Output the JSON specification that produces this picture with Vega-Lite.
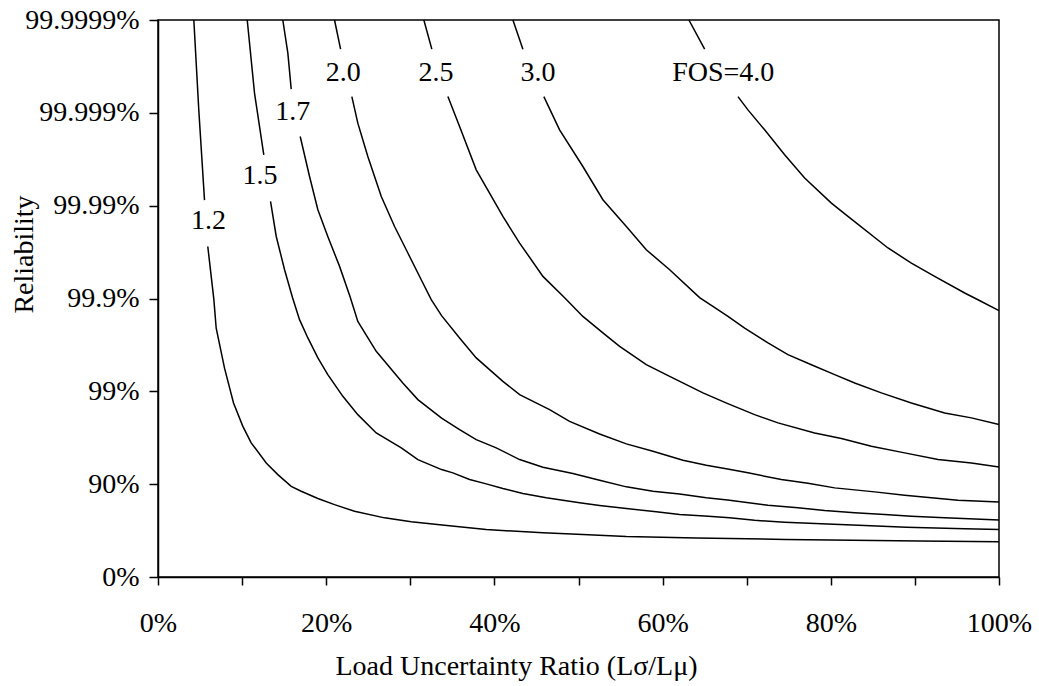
{
  "$schema": "https://vega.github.io/schema/vega-lite/v6.json",
  "autosize": {"type": "none"},
  "width": 841,
  "height": 557,
  "padding": {"left": 158, "top": 20, "right": 40, "bottom": 109},
  "background": "white",
  "config": {
    "font": "Liberation Serif",
    "view": {"stroke": "black", "strokeWidth": 1.5},
    "axis": {
      "grid": false,
      "domainColor": "black",
      "domainWidth": 1.5,
      "tickColor": "black",
      "tickWidth": 1.5,
      "labelColor": "black",
      "titleColor": "black",
      "labelFont": "Liberation Serif",
      "titleFont": "Liberation Serif",
      "labelFontSize": 28,
      "titleFontSize": 28,
      "titleFontWeight": "normal",
      "labelFlush": false,
      "labelOverlap": false
    }
  },
  "datasets": {
    "curves": [
      {"fos": "1.2", "part": "a", "x": 4.26, "y": 6.0},
      {"fos": "1.2", "part": "a", "x": 4.85, "y": 5.03},
      {"fos": "1.2", "part": "a", "x": 5.53, "y": 4.06},
      {"fos": "1.2", "part": "b", "x": 5.92, "y": 3.56},
      {"fos": "1.2", "part": "b", "x": 6.64, "y": 2.99},
      {"fos": "1.2", "part": "b", "x": 6.92, "y": 2.68},
      {"fos": "1.2", "part": "b", "x": 7.91, "y": 2.25},
      {"fos": "1.2", "part": "b", "x": 8.98, "y": 1.875},
      {"fos": "1.2", "part": "b", "x": 10.09, "y": 1.623},
      {"fos": "1.2", "part": "b", "x": 11.08, "y": 1.445},
      {"fos": "1.2", "part": "b", "x": 12.87, "y": 1.229},
      {"fos": "1.2", "part": "b", "x": 14.25, "y": 1.103},
      {"fos": "1.2", "part": "b", "x": 15.84, "y": 0.977},
      {"fos": "1.2", "part": "b", "x": 17.03, "y": 0.924},
      {"fos": "1.2", "part": "b", "x": 19.01, "y": 0.845},
      {"fos": "1.2", "part": "b", "x": 20.99, "y": 0.78},
      {"fos": "1.2", "part": "b", "x": 23.37, "y": 0.708},
      {"fos": "1.2", "part": "b", "x": 26.94, "y": 0.637},
      {"fos": "1.2", "part": "b", "x": 30.11, "y": 0.594},
      {"fos": "1.2", "part": "b", "x": 34.07, "y": 0.558},
      {"fos": "1.2", "part": "b", "x": 39.03, "y": 0.511},
      {"fos": "1.2", "part": "b", "x": 45.77, "y": 0.476},
      {"fos": "1.2", "part": "b", "x": 50.52, "y": 0.457},
      {"fos": "1.2", "part": "b", "x": 55.69, "y": 0.436},
      {"fos": "1.2", "part": "b", "x": 64.0, "y": 0.42},
      {"fos": "1.2", "part": "b", "x": 74.6, "y": 0.405},
      {"fos": "1.2", "part": "b", "x": 90.5, "y": 0.388},
      {"fos": "1.2", "part": "b", "x": 100, "y": 0.379},

      {"fos": "1.5", "part": "a", "x": 10.61, "y": 6.0},
      {"fos": "1.5", "part": "a", "x": 11.48, "y": 5.21},
      {"fos": "1.5", "part": "a", "x": 12.58, "y": 4.548},
      {"fos": "1.5", "part": "b", "x": 13.38, "y": 4.045},
      {"fos": "1.5", "part": "b", "x": 14.06, "y": 3.668},
      {"fos": "1.5", "part": "b", "x": 15.05, "y": 3.31},
      {"fos": "1.5", "part": "b", "x": 16.0, "y": 3.009},
      {"fos": "1.5", "part": "b", "x": 16.83, "y": 2.772},
      {"fos": "1.5", "part": "b", "x": 17.82, "y": 2.575},
      {"fos": "1.5", "part": "b", "x": 19.01, "y": 2.36},
      {"fos": "1.5", "part": "b", "x": 20.19, "y": 2.18},
      {"fos": "1.5", "part": "b", "x": 21.98, "y": 1.946},
      {"fos": "1.5", "part": "b", "x": 23.76, "y": 1.749},
      {"fos": "1.5", "part": "b", "x": 25.95, "y": 1.552},
      {"fos": "1.5", "part": "b", "x": 28.93, "y": 1.391},
      {"fos": "1.5", "part": "b", "x": 30.9, "y": 1.265},
      {"fos": "1.5", "part": "b", "x": 33.72, "y": 1.157},
      {"fos": "1.5", "part": "b", "x": 35.06, "y": 1.122},
      {"fos": "1.5", "part": "b", "x": 37.05, "y": 1.05},
      {"fos": "1.5", "part": "b", "x": 39.03, "y": 1.003},
      {"fos": "1.5", "part": "b", "x": 41.01, "y": 0.953},
      {"fos": "1.5", "part": "b", "x": 43.39, "y": 0.899},
      {"fos": "1.5", "part": "b", "x": 46.17, "y": 0.853},
      {"fos": "1.5", "part": "b", "x": 50.13, "y": 0.799},
      {"fos": "1.5", "part": "b", "x": 52.51, "y": 0.77},
      {"fos": "1.5", "part": "b", "x": 55.69, "y": 0.737},
      {"fos": "1.5", "part": "b", "x": 59.25, "y": 0.702},
      {"fos": "1.5", "part": "b", "x": 62.02, "y": 0.673},
      {"fos": "1.5", "part": "b", "x": 65.0, "y": 0.657},
      {"fos": "1.5", "part": "b", "x": 67.97, "y": 0.637},
      {"fos": "1.5", "part": "b", "x": 70.94, "y": 0.611},
      {"fos": "1.5", "part": "b", "x": 74.51, "y": 0.59},
      {"fos": "1.5", "part": "b", "x": 78.88, "y": 0.573},
      {"fos": "1.5", "part": "b", "x": 84.03, "y": 0.554},
      {"fos": "1.5", "part": "b", "x": 88.99, "y": 0.536},
      {"fos": "1.5", "part": "b", "x": 95.92, "y": 0.519},
      {"fos": "1.5", "part": "b", "x": 100, "y": 0.511},

      {"fos": "1.7", "part": "a", "x": 14.84, "y": 6.0},
      {"fos": "1.7", "part": "a", "x": 15.44, "y": 5.643},
      {"fos": "1.7", "part": "a", "x": 15.84, "y": 5.255},
      {"fos": "1.7", "part": "b", "x": 16.91, "y": 4.745},
      {"fos": "1.7", "part": "b", "x": 18.02, "y": 4.314},
      {"fos": "1.7", "part": "b", "x": 19.01, "y": 3.956},
      {"fos": "1.7", "part": "b", "x": 20.19, "y": 3.668},
      {"fos": "1.7", "part": "b", "x": 21.59, "y": 3.346},
      {"fos": "1.7", "part": "b", "x": 22.84, "y": 3.019},
      {"fos": "1.7", "part": "b", "x": 23.76, "y": 2.753},
      {"fos": "1.7", "part": "b", "x": 25.95, "y": 2.431},
      {"fos": "1.7", "part": "b", "x": 29.11, "y": 2.09},
      {"fos": "1.7", "part": "b", "x": 30.9, "y": 1.911},
      {"fos": "1.7", "part": "b", "x": 33.72, "y": 1.711},
      {"fos": "1.7", "part": "b", "x": 35.86, "y": 1.588},
      {"fos": "1.7", "part": "b", "x": 37.84, "y": 1.48},
      {"fos": "1.7", "part": "b", "x": 40.22, "y": 1.391},
      {"fos": "1.7", "part": "b", "x": 43.0, "y": 1.265},
      {"fos": "1.7", "part": "b", "x": 45.77, "y": 1.182},
      {"fos": "1.7", "part": "b", "x": 49.33, "y": 1.114},
      {"fos": "1.7", "part": "b", "x": 52.51, "y": 1.042},
      {"fos": "1.7", "part": "b", "x": 55.69, "y": 0.971},
      {"fos": "1.7", "part": "b", "x": 58.85, "y": 0.924},
      {"fos": "1.7", "part": "b", "x": 62.02, "y": 0.893},
      {"fos": "1.7", "part": "b", "x": 65.2, "y": 0.853},
      {"fos": "1.7", "part": "b", "x": 67.73, "y": 0.829},
      {"fos": "1.7", "part": "b", "x": 72.53, "y": 0.773},
      {"fos": "1.7", "part": "b", "x": 76.09, "y": 0.745},
      {"fos": "1.7", "part": "b", "x": 79.27, "y": 0.716},
      {"fos": "1.7", "part": "b", "x": 82.84, "y": 0.691},
      {"fos": "1.7", "part": "b", "x": 86.41, "y": 0.673},
      {"fos": "1.7", "part": "b", "x": 89.58, "y": 0.654},
      {"fos": "1.7", "part": "b", "x": 93.54, "y": 0.637},
      {"fos": "1.7", "part": "b", "x": 100, "y": 0.614},

      {"fos": "2.0", "part": "a", "x": 20.99, "y": 6.0},
      {"fos": "2.0", "part": "a", "x": 21.71, "y": 5.686},
      {"fos": "2.0", "part": "b", "x": 23.05, "y": 5.175},
      {"fos": "2.0", "part": "b", "x": 23.76, "y": 4.889},
      {"fos": "2.0", "part": "b", "x": 24.95, "y": 4.53},
      {"fos": "2.0", "part": "b", "x": 26.55, "y": 4.099},
      {"fos": "2.0", "part": "b", "x": 28.13, "y": 3.776},
      {"fos": "2.0", "part": "b", "x": 29.71, "y": 3.49},
      {"fos": "2.0", "part": "b", "x": 31.3, "y": 3.202},
      {"fos": "2.0", "part": "b", "x": 32.49, "y": 2.987},
      {"fos": "2.0", "part": "b", "x": 33.72, "y": 2.815},
      {"fos": "2.0", "part": "b", "x": 35.86, "y": 2.575},
      {"fos": "2.0", "part": "b", "x": 37.84, "y": 2.36},
      {"fos": "2.0", "part": "b", "x": 41.01, "y": 2.108},
      {"fos": "2.0", "part": "b", "x": 43.0, "y": 1.964},
      {"fos": "2.0", "part": "b", "x": 46.56, "y": 1.803},
      {"fos": "2.0", "part": "b", "x": 48.94, "y": 1.677},
      {"fos": "2.0", "part": "b", "x": 52.51, "y": 1.541},
      {"fos": "2.0", "part": "b", "x": 55.69, "y": 1.434},
      {"fos": "2.0", "part": "b", "x": 58.85, "y": 1.354},
      {"fos": "2.0", "part": "b", "x": 62.42, "y": 1.257},
      {"fos": "2.0", "part": "b", "x": 65.2, "y": 1.203},
      {"fos": "2.0", "part": "b", "x": 67.73, "y": 1.163},
      {"fos": "2.0", "part": "b", "x": 70.15, "y": 1.122},
      {"fos": "2.0", "part": "b", "x": 74.12, "y": 1.05},
      {"fos": "2.0", "part": "b", "x": 77.28, "y": 1.01},
      {"fos": "2.0", "part": "b", "x": 80.46, "y": 0.96},
      {"fos": "2.0", "part": "b", "x": 85.22, "y": 0.917},
      {"fos": "2.0", "part": "b", "x": 88.78, "y": 0.881},
      {"fos": "2.0", "part": "b", "x": 91.96, "y": 0.853},
      {"fos": "2.0", "part": "b", "x": 95.12, "y": 0.827},
      {"fos": "2.0", "part": "b", "x": 100, "y": 0.807},

      {"fos": "2.5", "part": "a", "x": 31.61, "y": 6.0},
      {"fos": "2.5", "part": "a", "x": 32.56, "y": 5.686},
      {"fos": "2.5", "part": "b", "x": 34.47, "y": 5.175},
      {"fos": "2.5", "part": "b", "x": 35.86, "y": 4.853},
      {"fos": "2.5", "part": "b", "x": 37.84, "y": 4.386},
      {"fos": "2.5", "part": "b", "x": 41.01, "y": 3.884},
      {"fos": "2.5", "part": "b", "x": 43.0, "y": 3.597},
      {"fos": "2.5", "part": "b", "x": 45.77, "y": 3.238},
      {"fos": "2.5", "part": "b", "x": 48.35, "y": 3.009},
      {"fos": "2.5", "part": "b", "x": 50.52, "y": 2.807},
      {"fos": "2.5", "part": "b", "x": 52.9, "y": 2.629},
      {"fos": "2.5", "part": "b", "x": 54.89, "y": 2.484},
      {"fos": "2.5", "part": "b", "x": 58.06, "y": 2.287},
      {"fos": "2.5", "part": "b", "x": 60.84, "y": 2.161},
      {"fos": "2.5", "part": "b", "x": 64.8, "y": 1.983},
      {"fos": "2.5", "part": "b", "x": 67.61, "y": 1.873},
      {"fos": "2.5", "part": "b", "x": 70.94, "y": 1.749},
      {"fos": "2.5", "part": "b", "x": 73.72, "y": 1.66},
      {"fos": "2.5", "part": "b", "x": 78.08, "y": 1.552},
      {"fos": "2.5", "part": "b", "x": 81.26, "y": 1.491},
      {"fos": "2.5", "part": "b", "x": 84.82, "y": 1.408},
      {"fos": "2.5", "part": "b", "x": 88.78, "y": 1.337},
      {"fos": "2.5", "part": "b", "x": 92.75, "y": 1.265},
      {"fos": "2.5", "part": "b", "x": 96.72, "y": 1.229},
      {"fos": "2.5", "part": "b", "x": 100, "y": 1.186},

      {"fos": "3.0", "part": "a", "x": 42.2, "y": 6.0},
      {"fos": "3.0", "part": "a", "x": 43.39, "y": 5.686},
      {"fos": "3.0", "part": "b", "x": 45.88, "y": 5.175},
      {"fos": "3.0", "part": "b", "x": 47.75, "y": 4.817},
      {"fos": "3.0", "part": "b", "x": 50.52, "y": 4.422},
      {"fos": "3.0", "part": "b", "x": 52.9, "y": 4.064},
      {"fos": "3.0", "part": "b", "x": 55.69, "y": 3.776},
      {"fos": "3.0", "part": "b", "x": 58.06, "y": 3.525},
      {"fos": "3.0", "part": "b", "x": 60.84, "y": 3.31},
      {"fos": "3.0", "part": "b", "x": 64.4, "y": 3.009},
      {"fos": "3.0", "part": "b", "x": 65.98, "y": 2.915},
      {"fos": "3.0", "part": "b", "x": 67.73, "y": 2.809},
      {"fos": "3.0", "part": "b", "x": 69.76, "y": 2.682},
      {"fos": "3.0", "part": "b", "x": 72.53, "y": 2.521},
      {"fos": "3.0", "part": "b", "x": 74.9, "y": 2.395},
      {"fos": "3.0", "part": "b", "x": 77.69, "y": 2.287},
      {"fos": "3.0", "part": "b", "x": 80.46, "y": 2.18},
      {"fos": "3.0", "part": "b", "x": 82.84, "y": 2.09},
      {"fos": "3.0", "part": "b", "x": 86.01, "y": 1.983},
      {"fos": "3.0", "part": "b", "x": 89.58, "y": 1.875},
      {"fos": "3.0", "part": "b", "x": 93.54, "y": 1.767},
      {"fos": "3.0", "part": "b", "x": 96.72, "y": 1.714},
      {"fos": "3.0", "part": "b", "x": 100, "y": 1.642},

      {"fos": "4.0", "part": "a", "x": 63.13, "y": 6.0},
      {"fos": "4.0", "part": "a", "x": 65.0, "y": 5.686},
      {"fos": "4.0", "part": "b", "x": 68.96, "y": 5.175},
      {"fos": "4.0", "part": "b", "x": 70.15, "y": 5.032},
      {"fos": "4.0", "part": "b", "x": 72.13, "y": 4.817},
      {"fos": "4.0", "part": "b", "x": 74.51, "y": 4.548},
      {"fos": "4.0", "part": "b", "x": 76.89, "y": 4.297},
      {"fos": "4.0", "part": "b", "x": 80.07, "y": 4.028},
      {"fos": "4.0", "part": "b", "x": 82.04, "y": 3.884},
      {"fos": "4.0", "part": "b", "x": 86.8, "y": 3.544},
      {"fos": "4.0", "part": "b", "x": 89.58, "y": 3.382},
      {"fos": "4.0", "part": "b", "x": 92.35, "y": 3.238},
      {"fos": "4.0", "part": "b", "x": 95.92, "y": 3.059},
      {"fos": "4.0", "part": "b", "x": 97.5, "y": 2.987},
      {"fos": "4.0", "part": "b", "x": 100, "y": 2.869}
    ],
    "labels": [
      {"label": "1.2", "x": 6.01, "y": 3.83},
      {"label": "1.5", "x": 12.13, "y": 4.32},
      {"label": "1.7", "x": 16.03, "y": 5.01},
      {"label": "2.0", "x": 22.03, "y": 5.43},
      {"label": "2.5", "x": 33.06, "y": 5.43},
      {"label": "3.0", "x": 45.17, "y": 5.43},
      {"label": "FOS=4.0", "x": 67.21, "y": 5.43}
    ]
  },
  "layer": [
    {
      "data": {"name": "curves"},
      "mark": {"type": "line", "color": "black", "strokeWidth": 1.5, "interpolate": "linear"},
      "encoding": {
        "x": {
          "field": "x",
          "type": "quantitative",
          "scale": {"domain": [0, 100], "nice": false, "zero": false},
          "axis": {
            "values": [0, 10, 20, 30, 40, 50, 60, 70, 80, 90, 100],
            "labelExpr": "datum.value % 20 === 0 ? datum.value + '%' : ''",
            "tickSize": 8,
            "labelPadding": 24,
            "title": "Load Uncertainty Ratio (Lσ/Lμ)",
            "titleAlign": "center",
            "titleBaseline": "alphabetic",
            "titleX": 358,
            "titleY": 97
          }
        },
        "y": {
          "field": "y",
          "type": "quantitative",
          "scale": {"domain": [0, 6], "nice": false, "zero": false},
          "axis": {
            "values": [0, 1, 2, 3, 4, 5, 6],
            "labelExpr": "['0%','90%','99%','99.9%','99.99%','99.999%','99.9999%'][datum.value]",
            "tickSize": 9,
            "labelPadding": 10,
            "title": "Reliability",
            "titleAngle": 270,
            "titleAlign": "center",
            "titleBaseline": "alphabetic",
            "titleX": -126,
            "titleY": 234
          }
        },
        "detail": [{"field": "fos"}, {"field": "part"}]
      }
    },
    {
      "data": {"name": "labels"},
      "mark": {"type": "text", "font": "Liberation Serif", "fontSize": 28, "color": "black", "align": "center", "baseline": "middle"},
      "encoding": {
        "x": {"field": "x", "type": "quantitative"},
        "y": {"field": "y", "type": "quantitative"},
        "text": {"field": "label"}
      }
    }
  ]
}
